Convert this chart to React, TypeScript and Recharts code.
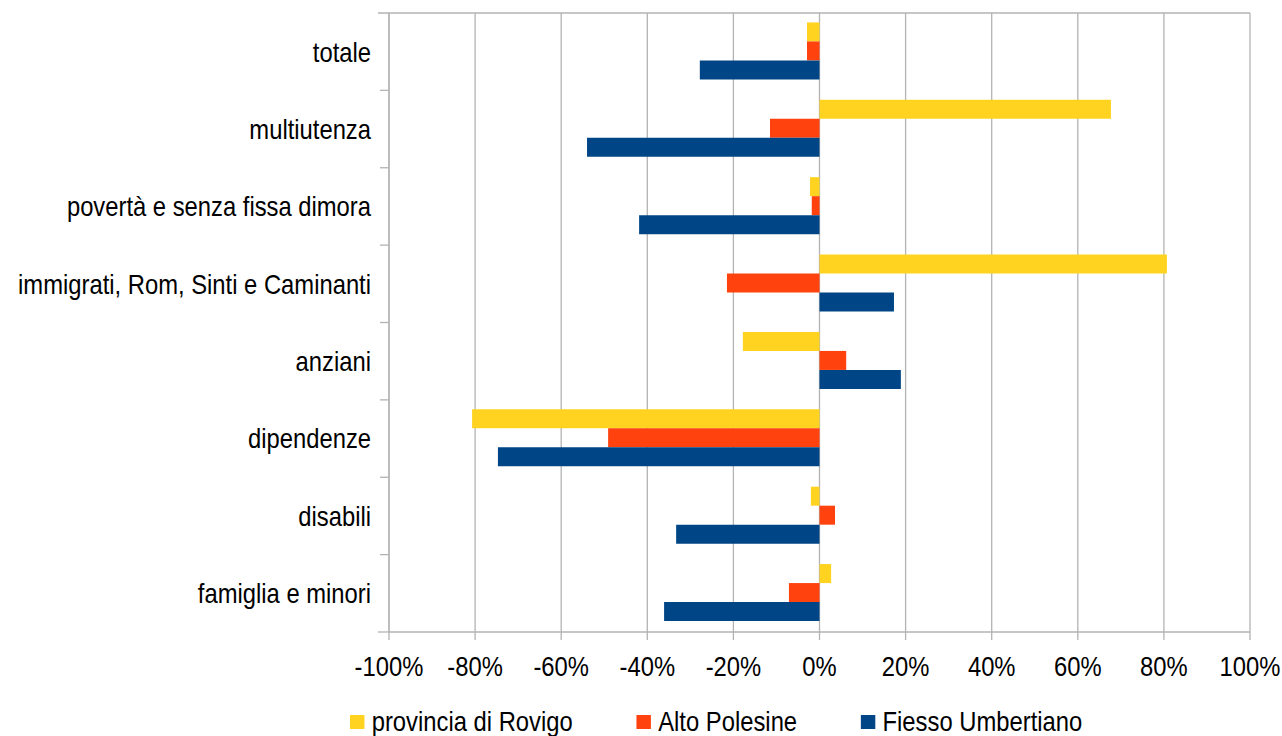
import { BarChart, Bar, XAxis, YAxis, CartesianGrid } from 'recharts';

const categories = [
  'totale',
  'multiutenza',
  'povertà e senza fissa dimora',
  'immigrati, Rom, Sinti e Caminanti',
  'anziani',
  'dipendenze',
  'disabili',
  'famiglia e minori',
];

const provinciaRovigo = [-2.9, 67.7, -2.2, 80.7, -17.8, -80.7, -2.0, 2.7];
const altoPolesine = [-2.9, -11.5, -1.8, -21.5, 6.2, -49.1, 3.6, -7.1];
const fiessoUmbertiano = [-27.8, -54.0, -41.9, 17.3, 18.9, -74.7, -33.3, -36.1];

const xTicks = [-100, -80, -60, -40, -20, 0, 20, 40, 60, 80, 100];

const series = [
  { key: 'provincia di Rovigo', color: '#ffd320', values: provinciaRovigo },
  { key: 'Alto Polesine', color: '#ff420e', values: altoPolesine },
  { key: 'Fiesso Umbertiano', color: '#004586', values: fiessoUmbertiano },
];

const chartData = categories.map((name, i) => {
  const row: Record<string, string | number> = { name };
  series.forEach(s => { row[s.key] = s.values[i]; });
  return row;
});

const W = 1282;
const H = 736;
const MARGIN = { top: 13, right: 32, bottom: 0, left: 0 };
const Y_WIDTH = 389;
const X_HEIGHT = 104;
const PLOT_W = W - MARGIN.right - Y_WIDTH;
const PLOT_H = H - MARGIN.top - X_HEIGHT;
const BAND = PLOT_H / categories.length;
const GRID = '#b3b3b3';
const FONT = '"Liberation Sans", Arial, sans-serif';
const SQUEEZE = 0.85; // reference text is narrow

function CategoryTick(props: any) {
  const { x, y, payload, index } = props;
  const top = y - BAND / 2;
  const bottom = y + BAND / 2;
  const last = index === categories.length - 1;
  return (
    <g>
      <line x1={index === 0 ? x - 11 : x - 9} x2={index === 0 ? x + PLOT_W : x} y1={top} y2={top} stroke={GRID} strokeWidth={1.3} />
      {last && <line x1={x - 11} x2={x} y1={bottom} y2={bottom} stroke={GRID} strokeWidth={1.3} />}
      <text
        transform={`translate(${x - 18},${y}) scale(${SQUEEZE},1)`}
        dy="0.35em"
        textAnchor="end"
        fill="#000"
        fontSize={28}
        fontFamily={FONT}
      >
        {payload.value}
      </text>
    </g>
  );
}

function ValueTick(props: any) {
  const { x, y, payload } = props;
  return (
    <text
      transform={`translate(${x},${y + 36}) scale(${SQUEEZE},1)`}
      textAnchor="middle"
      fill="#000"
      fontSize={28}
      fontFamily={FONT}
    >
      {`${payload.value}%`}
    </text>
  );
}

function ChartLegend() {
  return (
    <div style={{ position: 'absolute', left: 350, top: 706 }}>
      <div
        style={{
          display: 'flex',
          gap: 75,
          fontFamily: FONT,
          fontSize: 28,
          lineHeight: '32px',
          color: '#000',
          transform: `scaleX(${SQUEEZE})`,
          transformOrigin: 'left center',
          whiteSpace: 'nowrap',
        }}
      >
        {series.map(s => (
          <div key={s.key} style={{ display: 'flex', alignItems: 'center', gap: 9 }}>
            <span style={{ width: 16.5, height: 14, background: s.color, display: 'inline-block' }} />
            <span>{s.key}</span>
          </div>
        ))}
      </div>
    </div>
  );
}

export default function App() {
  return (
    <div style={{ position: 'absolute', left: 0, top: 0, width: W, height: H, background: '#fff', overflow: 'hidden' }}>
      <BarChart
        width={W}
        height={H}
        data={chartData}
        layout="vertical"
        margin={MARGIN}
        barCategoryGap="12.2%"
        barGap={0}
      >
        <CartesianGrid horizontal={false} stroke={GRID} strokeWidth={1.3} />
        <XAxis
          type="number"
          domain={[-100, 100]}
          ticks={xTicks}
          height={X_HEIGHT}
          axisLine={{ stroke: GRID, strokeWidth: 1.3 }}
          tickLine={{ stroke: GRID, strokeWidth: 1.3 }}
          tickSize={8}
          tickMargin={0}
          tick={<ValueTick />}
          interval={0}
        />
        <YAxis
          type="category"
          dataKey="name"
          width={Y_WIDTH}
          axisLine={{ stroke: GRID, strokeWidth: 1.3 }}
          tickLine={false}
          tickSize={0}
          tickMargin={0}
          tick={<CategoryTick />}
          interval={0}
        />
        {series.map(s => (
          <Bar key={s.key} dataKey={s.key} fill={s.color} isAnimationActive={false} />
        ))}
      </BarChart>
      <ChartLegend />
    </div>
  );
}
